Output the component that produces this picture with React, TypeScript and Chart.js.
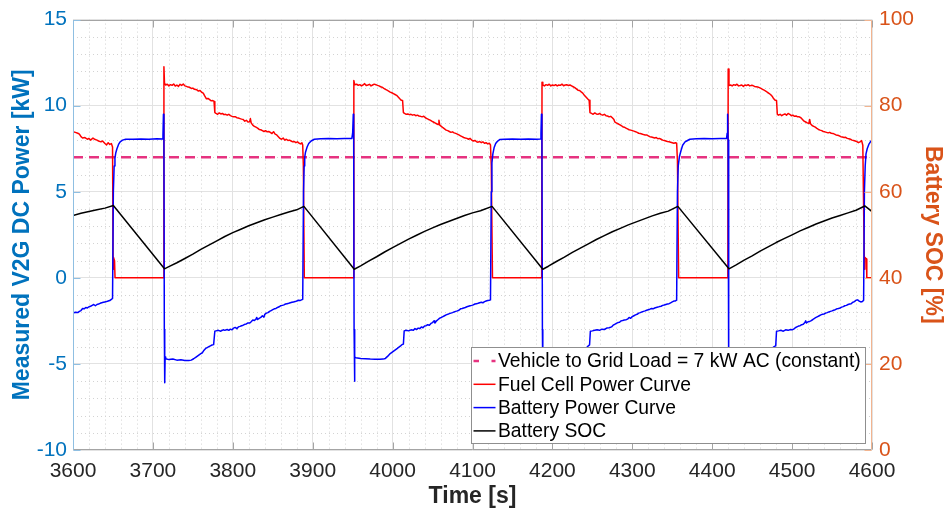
import { useEffect, useRef } from 'react';
import { Chart, registerables } from 'chart.js';

Chart.register(...registerables);

const FONT = '"Liberation Sans", Arial, Helvetica, sans-serif';

// ---- axis ticks ----
const xTicks = [3600, 3700, 3800, 3900, 4000, 4100, 4200, 4300, 4400, 4500, 4600];
const leftTicks = [-10, -5, 0, 5, 10, 15];
const rightTicks = [0, 20, 40, 60, 80, 100];
const xMinorStep = 20;
const yMinorStep = 1;

// ---- series labels ----
const seriesLabels = [
  'Vehicle to Grid Load = 7 kW AC (constant)',
  'Fuel Cell Power Curve',
  'Battery Power Curve',
  'Battery SOC',
];

// ---- data: [time s, value] ----
const v2gLoad: [number, number][] = [[3600, 7], [4600, 7]];

const fuelCell: [number, number][] = [
  [3600, 8.49], [3603, 8.45], [3606, 8.4], [3608, 8.35], [3610, 8.2], [3612, 8.12], [3615, 8.15], [3618, 8.05],
  [3620, 8.1], [3622, 8.0], [3625, 8.12], [3627, 8.05], [3630, 8.0], [3632, 7.95], [3635, 7.9], [3637, 7.95],
  [3640, 7.8], [3642, 7.72], [3644, 7.85], [3646, 7.75], [3648, 7.8],
  [3649.5, 7.6], [3650.2, 0.5], [3650.6, 1.2], [3652, 1.0], [3652.6, 0], [3713.4, 0],
  [3713.8, 12.26], [3714.5, 11.3], [3716, 11.2], [3718, 11.25], [3720, 11.15], [3722, 11.22], [3724, 11.18],
  [3726, 11.26], [3728, 11.14], [3730, 11.2], [3732, 11.12], [3734, 11.24], [3736, 11.18], [3738, 11.26],
  [3740, 11.15], [3742, 11.12], [3744, 11.08], [3746, 11.07], [3748, 11.0], [3750, 11.02], [3752, 10.95],
  [3755, 10.92], [3757, 10.85], [3759, 10.88], [3761, 10.78], [3763, 10.73], [3765, 10.55], [3767, 10.4],
  [3769, 10.42], [3771, 10.35], [3773, 10.28], [3775, 10.3], [3776.5, 10.25], [3777.5, 9.6], [3779, 9.55],
  [3781, 9.5], [3783, 9.58], [3785, 9.52], [3787, 9.55], [3789, 9.48], [3791, 9.5], [3793, 9.45], [3795, 9.5],
  [3797, 9.42], [3799, 9.38], [3801, 9.35], [3803, 9.36], [3805, 9.3], [3807, 9.28], [3809, 9.25], [3811, 9.22],
  [3813, 9.2], [3815, 9.1], [3817, 9.15], [3819, 9.05], [3821, 9.06], [3822, 9.25], [3823, 9.0], [3825, 8.87],
  [3827, 8.8], [3829, 8.75], [3831, 8.7], [3833, 8.62], [3835, 8.6], [3837, 8.55], [3839, 8.5], [3841, 8.55],
  [3843, 8.48], [3845, 8.5], [3847, 8.45], [3849, 8.38], [3851, 8.49], [3853, 8.35], [3855, 8.3], [3857, 8.2],
  [3859, 8.1], [3861, 8.05], [3863, 8.12], [3865, 8.0], [3867, 8.05], [3869, 7.98], [3871, 8.0], [3873, 7.95],
  [3875, 7.9], [3877, 7.92], [3879, 7.85], [3881, 7.9], [3883, 7.82], [3885, 7.78], [3886.5, 7.85], [3887.5, 7.72],
  [3888.3, 6.5], [3889.5, 0], [3951.2, 0],
  [3951.5, 11.46], [3952.5, 11.22], [3955, 11.25], [3957, 11.18], [3959, 11.22], [3961, 11.15], [3963, 11.2],
  [3965, 11.28], [3967, 11.17], [3969, 11.2], [3971, 11.24], [3973, 11.15], [3975, 11.2], [3977, 11.25],
  [3979, 11.22], [3981, 11.18], [3983, 11.15], [3985, 11.1], [3987, 11.07], [3989, 11.0], [3991, 10.95],
  [3993, 10.9], [3995, 10.85], [3997, 10.79], [3999, 10.75], [4001, 10.7], [4003, 10.65], [4005, 10.6],
  [4007, 10.5], [4009, 10.4], [4011, 10.31], [4012.5, 10.3], [4013.5, 9.6], [4015, 9.55], [4017, 9.5],
  [4019, 9.52], [4021, 9.48], [4023, 9.5], [4025, 9.45], [4027, 9.48], [4029, 9.42], [4031, 9.45], [4033, 9.4],
  [4035, 9.38], [4037, 9.35], [4039, 9.39], [4041, 9.3], [4043, 9.25], [4045, 9.2], [4047, 9.16], [4049, 9.1],
  [4051, 9.05], [4053, 9.0], [4055, 8.95], [4057, 8.9], [4058, 9.15], [4059, 8.87], [4061, 8.8], [4063, 8.72],
  [4065, 8.65], [4067, 8.58], [4069, 8.55], [4071, 8.5], [4073, 8.45], [4075, 8.48], [4077, 8.42], [4079, 8.39],
  [4081, 8.35], [4083, 8.3], [4085, 8.25], [4087, 8.2], [4089, 8.15], [4091, 8.12], [4093, 8.1], [4095, 8.05],
  [4097, 8.1], [4099, 8.0], [4101, 7.95], [4103, 7.98], [4105, 7.91], [4107, 7.88], [4109, 7.92], [4111, 7.85],
  [4113, 7.9], [4115, 7.82], [4117, 7.85], [4119, 7.78], [4121, 7.82], [4122.5, 7.72],
  [4123.5, 6.5], [4125, 0], [4186.6, 0],
  [4187, 11.36], [4188, 11.2], [4190, 11.15], [4192, 11.22], [4194, 11.18], [4196, 11.25], [4198, 11.15],
  [4200, 11.2], [4202, 11.17], [4204, 11.22], [4206, 11.15], [4208, 11.2], [4210, 11.18], [4212, 11.25],
  [4214, 11.16], [4216, 11.2], [4218, 11.22], [4220, 11.17], [4222, 11.2], [4224, 11.15], [4226, 11.1],
  [4228, 11.05], [4230, 10.98], [4232, 10.9], [4234, 10.88], [4236, 10.8], [4238, 10.73], [4240, 10.6],
  [4242, 10.5], [4244, 10.4], [4246, 10.31], [4247, 9.6], [4249, 9.55], [4251, 9.5], [4253, 9.58], [4255, 9.52],
  [4257, 9.5], [4259, 9.55], [4261, 9.48], [4263, 9.45], [4265, 9.5], [4267, 9.42], [4269, 9.4], [4271, 9.35],
  [4273, 9.38], [4275, 9.3], [4277, 9.2], [4278, 9.06], [4280, 9.0], [4282, 8.95], [4284, 8.9], [4286, 8.85],
  [4288, 8.78], [4290, 8.75], [4292, 8.7], [4294, 8.65], [4296, 8.6], [4298, 8.58], [4300, 8.55], [4302, 8.52],
  [4304, 8.49], [4306, 8.45], [4308, 8.4], [4310, 8.38], [4312, 8.35], [4314, 8.32], [4316, 8.3], [4318, 8.3],
  [4320, 8.25], [4322, 8.2], [4324, 8.18], [4326, 8.15], [4328, 8.12], [4330, 8.15], [4332, 8.08], [4334, 8.1],
  [4336, 8.05], [4338, 8.0], [4340, 7.98], [4342, 7.95], [4344, 7.92], [4346, 7.9], [4348, 7.88], [4350, 7.85],
  [4352, 7.82], [4354, 7.85], [4355.5, 7.82],
  [4356.5, 6.8], [4358, 0], [4419.6, 0],
  [4420, 12.13], [4421, 11.17], [4423, 11.2], [4425, 11.15], [4427, 11.22], [4429, 11.18], [4431, 11.25],
  [4433, 11.15], [4435, 11.17], [4437, 11.2], [4439, 11.12], [4441, 11.2], [4443, 11.17], [4445, 11.22],
  [4447, 11.15], [4449, 11.18], [4451, 11.17], [4453, 11.12], [4455, 11.1], [4457, 11.08], [4459, 11.05],
  [4461, 11.0], [4463, 10.95], [4465, 10.9], [4467, 10.85], [4469, 10.78], [4471, 10.72], [4473, 10.65],
  [4475, 10.55], [4477, 10.4], [4479, 10.31], [4480.5, 10.3], [4481.5, 9.5], [4483, 9.45], [4485, 9.5],
  [4487, 9.42], [4489, 9.48], [4491, 9.52], [4493, 9.45], [4495, 9.55], [4497, 9.5], [4499, 9.42], [4501, 9.45],
  [4503, 9.38], [4505, 9.4], [4507, 9.35], [4509, 9.35], [4511, 9.3], [4513, 9.2], [4515, 9.1], [4517, 9.05],
  [4519, 9.0], [4521, 8.97], [4522, 9.2], [4523, 8.95], [4525, 8.85], [4527, 8.8], [4529, 8.75], [4531, 8.68],
  [4533, 8.62], [4535, 8.58], [4537, 8.55], [4539, 8.5], [4541, 8.48], [4543, 8.45], [4545, 8.42], [4547, 8.45],
  [4549, 8.4], [4551, 8.39], [4553, 8.35], [4555, 8.3], [4557, 8.28], [4559, 8.25], [4561, 8.2], [4563, 8.18],
  [4565, 8.15], [4567, 8.16], [4569, 8.1], [4571, 8.08], [4573, 8.05], [4575, 8.0], [4577, 7.98], [4579, 7.95],
  [4581, 7.91], [4583, 7.85], [4585, 7.9], [4587, 7.97], [4588.5, 7.7],
  [4590.5, 0.5], [4591, 1.2], [4593, 1.1], [4593.5, 0], [4600, 0],
];

const batteryPower: [number, number][] = [
  [3600, -2.05], [3603, -2.0], [3606, -2.02], [3608, -1.95], [3610, -1.9], [3612, -1.78], [3614, -1.8],
  [3616, -1.72], [3618, -1.75], [3620, -1.68], [3622, -1.65], [3624, -1.6], [3626, -1.55], [3628, -1.62],
  [3630, -1.55], [3632, -1.52], [3634, -1.48], [3636, -1.45], [3638, -1.42], [3640, -1.4], [3642, -1.38],
  [3644, -1.35], [3646, -1.32], [3648, -1.25], [3649.5, -1.2],
  [3650.5, 5.0], [3651.5, 6.5], [3652.5, 6.95], [3653.5, 7.25], [3655, 7.5], [3657, 7.75], [3659, 7.9],
  [3662, 8.0], [3666, 8.05], [3675, 8.05], [3685, 8.07], [3695, 8.05], [3705, 8.08], [3712, 8.07],
  [3712.6, 8.3], [3713.2, 9.5], [3713.8, 8.0],
  [3714.3, -3], [3714.8, -6.1], [3715.3, -4.6], [3716, -4.7], [3720, -4.75], [3725, -4.72], [3730, -4.78],
  [3735, -4.76], [3740, -4.8], [3745, -4.8], [3748, -4.78], [3751, -4.7], [3754, -4.6], [3757, -4.5],
  [3760, -4.4], [3762, -4.35], [3764, -4.2], [3766, -4.1], [3768, -4.05], [3770, -4.0], [3772, -3.95],
  [3774, -3.9], [3776, -3.88], [3777.5, -3.1], [3779, -3.08], [3782, -3.05], [3785, -3.1], [3788, -3.02],
  [3790, -3.05], [3793, -3.0], [3795, -3.05], [3797, -2.98], [3799, -3.02], [3801, -2.92], [3803, -2.88],
  [3805, -2.95], [3807, -2.85], [3809, -2.82], [3811, -2.78], [3813, -2.75], [3815, -2.7], [3817, -2.68],
  [3819, -2.62], [3821, -2.63], [3823, -2.55], [3825, -2.45], [3827, -2.48], [3829, -2.4], [3830, -2.3],
  [3831, -2.42], [3833, -2.35], [3835, -2.3], [3837, -2.2], [3839, -2.28], [3840, -2.12], [3842, -2.05],
  [3844, -2.02], [3846, -1.95], [3848, -1.9], [3850, -1.85], [3852, -1.8], [3854, -1.78], [3856, -1.72],
  [3858, -1.68], [3860, -1.62], [3862, -1.6], [3864, -1.57], [3866, -1.52], [3868, -1.5], [3870, -1.48],
  [3872, -1.45], [3874, -1.42], [3876, -1.4], [3878, -1.38], [3880, -1.35], [3882, -1.3], [3884, -1.32],
  [3886, -1.28], [3887.5, -1.25],
  [3888.5, 5.0], [3889.3, 6.5], [3890, 7.0], [3891, 7.3], [3893, 7.6], [3895, 7.8], [3898, 7.95], [3902, 8.05],
  [3910, 8.08], [3920, 8.1], [3930, 8.08], [3940, 8.1], [3949, 8.1], [3950, 8.4], [3950.8, 9.5], [3951.3, 8.0],
  [3951.8, -3], [3952.3, -6.0], [3952.8, -4.6], [3954, -4.64], [3960, -4.68], [3966, -4.7], [3972, -4.72],
  [3978, -4.73], [3984, -4.73], [3988, -4.72], [3991, -4.68], [3994, -4.55], [3997, -4.4], [4000, -4.3],
  [4003, -4.2], [4006, -4.1], [4008, -4.02], [4010, -3.95], [4012, -3.87], [4013.5, -3.85], [4014.5, -3.08],
  [4017, -3.05], [4020, -3.08], [4023, -3.02], [4026, -3.05], [4028, -2.95], [4030, -3.0], [4032, -2.92],
  [4034, -2.95], [4036, -2.85], [4038, -2.9], [4040, -2.8], [4042, -2.78], [4044, -2.72], [4046, -2.75],
  [4048, -2.65], [4050, -2.6], [4052, -2.5], [4053, -2.62], [4055, -2.5], [4057, -2.42], [4059, -2.34],
  [4061, -2.3], [4063, -2.25], [4065, -2.2], [4067, -2.15], [4069, -2.12], [4071, -2.08], [4073, -2.05],
  [4075, -2.02], [4077, -1.98], [4079, -1.95], [4081, -1.92], [4083, -1.88], [4085, -1.8], [4087, -1.78],
  [4089, -1.75], [4091, -1.72], [4093, -1.68], [4095, -1.65], [4097, -1.62], [4099, -1.6], [4101, -1.57],
  [4103, -1.52], [4105, -1.5], [4107, -1.48], [4109, -1.45], [4111, -1.42], [4113, -1.45], [4115, -1.38],
  [4117, -1.35], [4119, -1.32], [4121, -1.3], [4122.5, -1.28],
  [4123.5, 5.0], [4124.3, 6.67], [4125.5, 7.2], [4127, 7.55], [4129, 7.8], [4131, 7.92], [4134, 8.03],
  [4140, 8.05], [4150, 8.06], [4160, 8.05], [4170, 8.07], [4180, 8.05], [4185, 8.06], [4185.7, 8.4],
  [4186.3, 9.5], [4186.9, 8.0],
  [4187.5, -3], [4188, -6.0], [4188.5, -4.6], [4190, -4.65], [4196, -4.7], [4202, -4.72], [4208, -4.75],
  [4214, -4.75], [4220, -4.72], [4224, -4.7], [4227, -4.6], [4230, -4.5], [4233, -4.4], [4236, -4.3],
  [4239, -4.2], [4241, -4.1], [4243, -4.05], [4245, -3.95], [4246.5, -3.9], [4247.5, -3.1], [4250, -3.08],
  [4253, -3.05], [4256, -3.02], [4259, -3.05], [4262, -2.98], [4265, -3.0], [4268, -2.92], [4271, -2.9],
  [4274, -2.85], [4276, -2.75], [4278, -2.7], [4280, -2.65], [4282, -2.6], [4284, -2.58], [4286, -2.5],
  [4288, -2.48], [4290, -2.45], [4292, -2.43], [4294, -2.4], [4296, -2.3], [4298, -2.35], [4300, -2.25],
  [4302, -2.2], [4304, -2.15], [4306, -2.12], [4308, -2.05], [4310, -2.02], [4312, -1.98], [4314, -1.95],
  [4316, -1.92], [4318, -1.88], [4320, -1.85], [4322, -1.82], [4324, -1.78], [4326, -1.8], [4328, -1.75],
  [4330, -1.72], [4332, -1.7], [4334, -1.67], [4336, -1.65], [4338, -1.6], [4340, -1.58], [4342, -1.55],
  [4344, -1.52], [4346, -1.5], [4348, -1.45], [4350, -1.4], [4352, -1.35], [4354, -1.34], [4355.5, -1.3],
  [4356.5, 5.0], [4357.5, 6.5], [4359, 7.05], [4361, 7.4], [4363, 7.7], [4366, 7.9], [4368, 7.95],
  [4372, 8.05], [4380, 8.08], [4390, 8.1], [4400, 8.08], [4410, 8.1], [4418, 8.1], [4418.7, 8.4],
  [4419.3, 9.5], [4419.9, 8.0],
  [4420.4, -3], [4420.9, -6.0], [4421.4, -4.6], [4423, -4.65], [4430, -4.7], [4436, -4.72], [4442, -4.75],
  [4448, -4.75], [4454, -4.72], [4458, -4.7], [4461, -4.6], [4464, -4.5], [4467, -4.4], [4470, -4.3],
  [4472, -4.2], [4474, -4.1], [4476, -4.05], [4478, -3.98], [4479.5, -3.95], [4480.5, -3.1], [4483, -3.08],
  [4486, -3.05], [4489, -3.1], [4492, -3.02], [4495, -3.05], [4498, -3.0], [4500, -3.02], [4502, -2.98],
  [4504, -2.9], [4506, -2.85], [4508, -2.8], [4510, -2.78], [4512, -2.72], [4514, -2.7], [4516, -2.6],
  [4517, -2.5], [4518, -2.62], [4520, -2.55], [4522, -2.53], [4524, -2.48], [4526, -2.42], [4528, -2.35],
  [4530, -2.3], [4532, -2.25], [4534, -2.2], [4536, -2.15], [4538, -2.12], [4540, -2.1], [4542, -2.05],
  [4544, -2.02], [4546, -1.98], [4548, -1.95], [4550, -1.92], [4552, -1.88], [4554, -1.85], [4556, -1.8],
  [4558, -1.78], [4560, -1.75], [4562, -1.7], [4564, -1.67], [4566, -1.62], [4568, -1.6], [4570, -1.55],
  [4572, -1.52], [4574, -1.5], [4576, -1.42], [4578, -1.38], [4580, -1.3], [4582, -1.28], [4584, -1.35],
  [4586, -1.4], [4588, -1.38], [4589.5, -1.3],
  [4590.5, 5.0], [4591.5, 6.5], [4592.5, 7.2], [4594, 7.5], [4596, 7.75], [4598, 7.9], [4600, 8.0],
];

const batterySoc: [number, number][] = [
  [3600, 54.5], [3610, 55.0], [3620, 55.4], [3630, 55.8], [3640, 56.2], [3650.5, 56.8],
  [3714.5, 42.1], [3720, 42.6], [3730, 43.5], [3740, 44.5], [3750, 45.5], [3760, 46.6], [3770, 47.6],
  [3780, 48.6], [3790, 49.6], [3800, 50.5], [3810, 51.3], [3820, 52.1], [3830, 52.8], [3840, 53.5],
  [3850, 54.1], [3860, 54.7], [3870, 55.3], [3880, 55.8], [3889, 56.6],
  [3952, 42.0], [3960, 42.8], [3970, 43.9], [3980, 44.9], [3990, 46.0], [4000, 47.0], [4010, 48.0],
  [4020, 49.0], [4030, 49.9], [4040, 50.8], [4050, 51.6], [4060, 52.4], [4070, 53.1], [4080, 53.8],
  [4090, 54.5], [4100, 55.1], [4110, 55.6], [4124.5, 56.6],
  [4188, 42.0], [4195, 42.7], [4205, 43.8], [4215, 44.8], [4225, 45.9], [4235, 46.9], [4245, 47.9],
  [4255, 48.9], [4265, 49.8], [4275, 50.7], [4285, 51.5], [4295, 52.3], [4305, 53.0], [4315, 53.7],
  [4325, 54.4], [4335, 55.0], [4345, 55.5], [4357, 56.6],
  [4421, 42.1], [4430, 43.0], [4440, 44.1], [4450, 45.1], [4460, 46.2], [4470, 47.2], [4480, 48.2],
  [4490, 49.1], [4500, 50.0], [4510, 50.9], [4520, 51.7], [4530, 52.5], [4540, 53.2], [4550, 53.9],
  [4560, 54.5], [4570, 55.1], [4580, 55.7], [4591, 56.7], [4600, 55.4],
];

// ---- styles ----
const PINK = '#e63380';
const RED = '#ff0000';
const BLUE = '#0000ff';
const BLACK = '#000000';
const AX_BLUE = '#0072bd';
const AX_ORANGE = '#d95319';
const TEXT_DARK = '#262626';
const GRID_MAJOR = '#e2e2e2';
const GRID_MINOR = '#d3d3d3';

const toXY = (arr: [number, number][]) => arr.map(([x, y]) => ({ x, y }));

const framePlugin = {
  id: 'matlabFrame',
  beforeDatasetsDraw(chart: any) {
    const { ctx, chartArea: a } = chart;
    const xs = chart.scales.x;
    const ys = chart.scales.y;
    ctx.save();
    ctx.strokeStyle = GRID_MINOR;
    ctx.lineWidth = 1;
    ctx.setLineDash([1, 3]);
    const xMin = xTicks[0];
    const xMax = xTicks[xTicks.length - 1];
    for (let t = xMin + xMinorStep; t < xMax; t += xMinorStep) {
      if (xTicks.includes(t)) continue;
      const px = Math.round(xs.getPixelForValue(t)) + 0.5;
      ctx.beginPath();
      ctx.moveTo(px, a.top);
      ctx.lineTo(px, a.bottom);
      ctx.stroke();
    }
    const yMin = leftTicks[0];
    const yMax = leftTicks[leftTicks.length - 1];
    for (let v = yMin + yMinorStep; v < yMax; v += yMinorStep) {
      if (leftTicks.includes(v)) continue;
      const py = Math.round(ys.getPixelForValue(v)) + 0.5;
      ctx.beginPath();
      ctx.moveTo(a.left, py);
      ctx.lineTo(a.right, py);
      ctx.stroke();
    }
    ctx.restore();
  },
  afterDatasetsDraw(chart: any) {
    const { ctx, chartArea: a } = chart;
    const xs = chart.scales.x;
    const ys = chart.scales.y;
    const ys2 = chart.scales.y2;
    const tl = 7;
    ctx.save();
    ctx.lineWidth = 1;
    ctx.setLineDash([]);
    const L = Math.round(a.left) + 0.5;
    const R = Math.round(a.right) - 0.5;
    const T = Math.round(a.top) + 0.5;
    const B = Math.round(a.bottom) - 0.5;
    // top / bottom
    ctx.strokeStyle = '#a4a4a4';
    ctx.beginPath();
    ctx.moveTo(L, T); ctx.lineTo(R, T);
    ctx.moveTo(L, B); ctx.lineTo(R, B);
    for (const t of xTicks) {
      const px = Math.round(xs.getPixelForValue(t)) + 0.5;
      ctx.moveTo(px, B); ctx.lineTo(px, B - tl);
      ctx.moveTo(px, T); ctx.lineTo(px, T + tl);
    }
    ctx.stroke();
    // left
    ctx.strokeStyle = '#8fbfe2';
    ctx.beginPath();
    ctx.moveTo(L, T); ctx.lineTo(L, B);
    for (const v of leftTicks) {
      const py = Math.round(ys.getPixelForValue(v)) + 0.5;
      ctx.moveTo(L, py); ctx.lineTo(L + tl, py);
    }
    ctx.stroke();
    // right
    ctx.strokeStyle = '#f2b48f';
    ctx.beginPath();
    ctx.moveTo(R, T); ctx.lineTo(R, B);
    for (const v of rightTicks) {
      const py = Math.round(ys2.getPixelForValue(v)) + 0.5;
      ctx.moveTo(R, py); ctx.lineTo(R - tl, py);
    }
    ctx.stroke();

    // legend
    const items = chart.data.datasets.map((ds: any) => ({
      label: ds.label,
      color: ds.borderColor,
      width: ds.borderWidth,
      dashed: !!(ds.borderDash && ds.borderDash.length),
    }));
    ctx.font = `19.3px ${FONT}`;
    const textW = Math.max(...items.map((it: any) => ctx.measureText(it.label).width));
    const rowH = 23.3;
    const right = Math.round(a.right - 7);
    const bottom = Math.round(a.bottom - 7.5);
    const h = Math.round(items.length * rowH + 2.6);
    const w = Math.round(27 + textW + 4);
    const left = right - w;
    const top = bottom - h;
    ctx.fillStyle = '#ffffff';
    ctx.fillRect(left, top, w, h);
    ctx.strokeStyle = '#8f8f8f';
    ctx.strokeRect(left + 0.5, top + 0.5, w, h);
    items.forEach((it: any, i: number) => {
      const cy = top + 14 + i * rowH;
      ctx.strokeStyle = it.color;
      ctx.lineWidth = it.width;
      ctx.setLineDash(it.dashed ? [5.5, 12.5] : []);
      ctx.beginPath();
      ctx.moveTo(left + 2.5, cy);
      ctx.lineTo(left + 24.5, cy);
      ctx.stroke();
      ctx.setLineDash([]);
      ctx.fillStyle = '#000000';
      ctx.textAlign = 'left';
      ctx.textBaseline = 'middle';
      ctx.fillText(it.label, left + 27, cy + 1);
    });
    ctx.restore();
  },
};

export default function App() {
  const canvasRef = useRef<HTMLCanvasElement | null>(null);

  useEffect(() => {
    document.body.style.margin = '0';
    const canvas = canvasRef.current;
    if (!canvas) return;
    const tickFont = { family: FONT, size: 21 };
    const titleFont = { family: FONT, size: 23, weight: 'bold' as const, lineHeight: 1 };
    const chart = new Chart(canvas, {
      type: 'line',
      data: {
        datasets: [
          {
            label: seriesLabels[0], data: toXY(v2gLoad), borderColor: PINK, borderWidth: 2.5,
            borderDash: [10, 6], pointRadius: 0, yAxisID: 'y', order: 4,
          },
          {
            label: seriesLabels[1], data: toXY(fuelCell), borderColor: RED, borderWidth: 1.5,
            pointRadius: 0, yAxisID: 'y', order: 3,
          },
          {
            label: seriesLabels[2], data: toXY(batteryPower), borderColor: BLUE, borderWidth: 1.5,
            pointRadius: 0, yAxisID: 'y', order: 2,
          },
          {
            label: seriesLabels[3], data: toXY(batterySoc), borderColor: BLACK, borderWidth: 1.5,
            pointRadius: 0, yAxisID: 'y2', order: 1,
          },
        ],
      },
      options: {
        responsive: false,
        animation: false,
        parsing: false as any,
        normalized: true,
        layout: { padding: { top: 15, left: 0, right: 0, bottom: 0 } },
        elements: { line: { tension: 0, borderJoinStyle: 'round', fill: false }, point: { radius: 0 } },
        plugins: { legend: { display: false }, tooltip: { enabled: false } },
        scales: {
          x: {
            type: 'linear',
            position: 'bottom',
            min: xTicks[0],
            max: xTicks[xTicks.length - 1],
            afterFit: (s: any) => { s.height = 61; },
            afterBuildTicks: (s: any) => { s.ticks = xTicks.map((v) => ({ value: v })); },
            ticks: {
              autoSkip: false, maxRotation: 0, color: TEXT_DARK, font: tickFont, padding: 9,
              callback: (v: any) => String(v),
            },
            grid: { color: GRID_MAJOR, lineWidth: 1, drawTicks: false },
            border: { display: false },
            title: {
              display: true, text: 'Time [s]', color: TEXT_DARK, font: titleFont,
              padding: { top: 0, bottom: 2.5 },
            },
          },
          y: {
            type: 'linear',
            position: 'left',
            min: leftTicks[0],
            max: leftTicks[leftTicks.length - 1],
            afterFit: (s: any) => { s.width = 73; },
            afterBuildTicks: (s: any) => { s.ticks = leftTicks.map((v) => ({ value: v })); },
            ticks: { color: AX_BLUE, font: tickFont, padding: 6, callback: (v: any) => String(v) },
            grid: { color: GRID_MAJOR, lineWidth: 1, drawTicks: false },
            border: { display: false },
            title: {
              display: true, text: 'Measured V2G DC Power [kW]', color: AX_BLUE, font: titleFont,
              padding: { top: 11, bottom: 0 },
            },
          },
          y2: {
            type: 'linear',
            position: 'right',
            min: rightTicks[0],
            max: rightTicks[rightTicks.length - 1],
            afterFit: (s: any) => { s.width = 72; },
            afterBuildTicks: (s: any) => { s.ticks = rightTicks.map((v) => ({ value: v })); },
            ticks: { color: AX_ORANGE, font: tickFont, padding: 7, callback: (v: any) => String(v) },
            grid: { drawOnChartArea: false, drawTicks: false },
            border: { display: false },
            title: {
              display: true, text: 'Battery SOC [%]', color: AX_ORANGE, font: titleFont,
              padding: { top: 0, bottom: 0 },
            },
          },
        },
      } as any,
      plugins: [framePlugin],
    });
    return () => chart.destroy();
  }, []);

  return (
    <div style={{ width: 944, height: 511 }}>
      <canvas ref={canvasRef} width={944} height={511} style={{ display: 'block' }} />
    </div>
  );
}
